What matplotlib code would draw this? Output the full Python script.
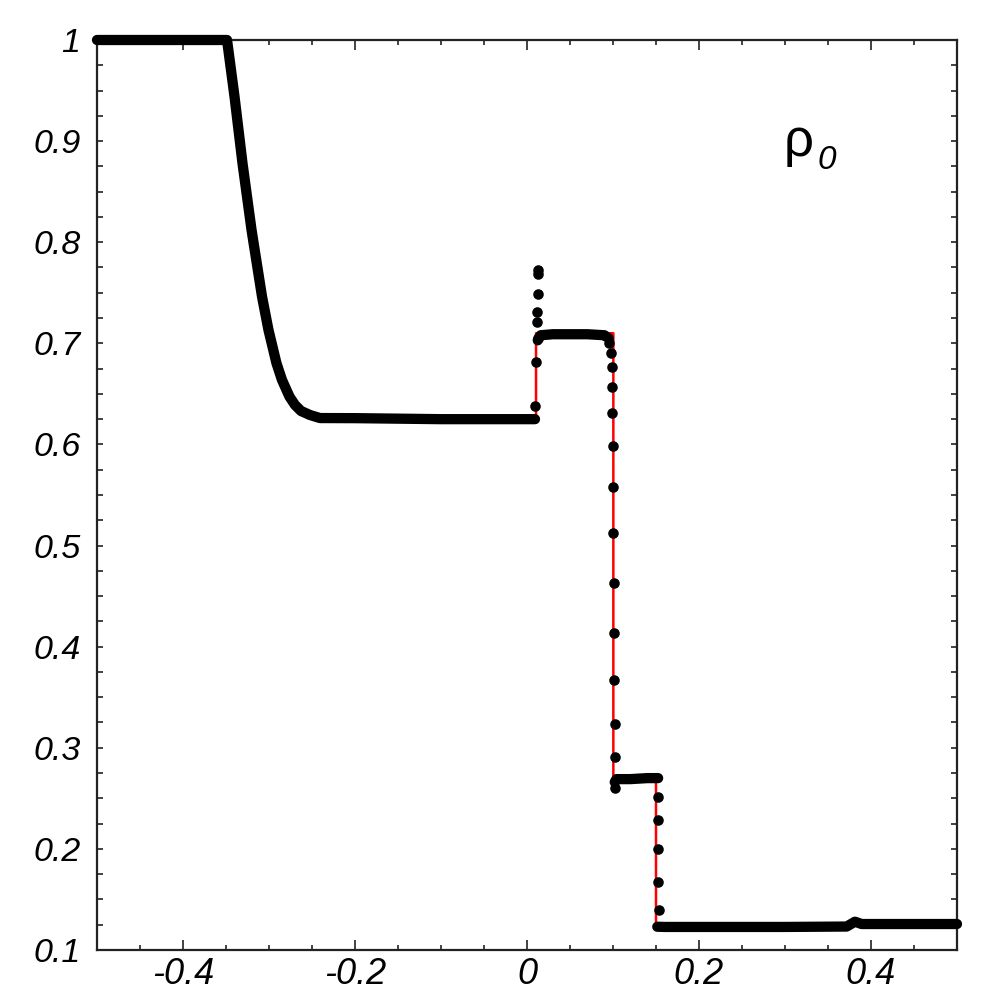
import matplotlib.pyplot as plt
from matplotlib import font_manager
from matplotlib.ticker import MultipleLocator, FixedLocator, FixedFormatter

plt.rcParams['axes.unicode_minus'] = False

# rarefaction fan
fan_x = [-0.3488, -0.3401, -0.3308, -0.3203, -0.3081, -0.3006, -0.2913, -0.2849,
         -0.2762, -0.2698, -0.2628]
fan_y = [1.0, 0.944, 0.878, 0.8121, 0.7461, 0.7132, 0.6803, 0.6638,
         0.6473, 0.6391, 0.6331]

# exact solution (red line)
exact_x = [-0.5] + fan_x + [-0.2504, 0.0105, 0.0105, 0.1004, 0.1004, 0.150, 0.150, 0.5]
exact_y = [1.0] + fan_y + [0.627, 0.626, 0.710, 0.710, 0.270, 0.270, 0.124, 0.124]

# numerical solution, dense parts (points overlap into a thick band)
band1_x = [-0.5] + fan_x + [-0.2523, -0.2407, -0.20, -0.10, 0.0, 0.0093]
band1_y = [1.0] + fan_y + [0.6291, 0.6261, 0.626, 0.625, 0.625, 0.625]
band2_x = [0.0125, 0.016, 0.03, 0.05, 0.07, 0.09, 0.095]
band2_y = [0.703, 0.708, 0.709, 0.709, 0.709, 0.708, 0.705]
band3_x = [0.1020, 0.104, 0.12, 0.14, 0.1525]
band3_y = [0.266, 0.269, 0.269, 0.270, 0.270]
band4_x = [0.1515, 0.16, 0.2, 0.3, 0.3717, 0.3814, 0.389, 0.40, 0.5]
band4_y = [0.123, 0.1228, 0.1228, 0.1228, 0.1232, 0.128, 0.1257, 0.1257, 0.1257]

# numerical solution, isolated points across the jumps
dots_x = [0.0093, 0.0105, 0.0120, 0.0122, 0.0125, 0.0125, 0.0128, 0.0130,
          0.0955, 0.0975, 0.0985, 0.0990, 0.0993, 0.0997, 0.1000, 0.1004, 0.1008,
          0.1012, 0.1016, 0.1020, 0.1020, 0.1025,
          0.1521, 0.1521, 0.1523, 0.1527, 0.1530]
dots_y = [0.638, 0.682, 0.721, 0.731, 0.749, 0.769, 0.773, 0.705,
          0.700, 0.690, 0.677, 0.657, 0.631, 0.598, 0.558, 0.512, 0.463,
          0.414, 0.367, 0.324, 0.291, 0.260,
          0.251, 0.2286, 0.1996, 0.1676, 0.1396]

x_ticks = [-0.4, -0.2, 0.0, 0.2, 0.4]
x_labels = ['-0.4', '-0.2', '0', '0.2', '0.4']
y_ticks = [0.1, 0.2, 0.3, 0.4, 0.5, 0.6, 0.7, 0.8, 0.9, 1.0]
y_labels = ['0.1', '0.2', '0.3', '0.4', '0.5', '0.6', '0.7', '0.8', '0.9', '1']

# narrow face for the x labels if it is there
names = {f.name for f in font_manager.fontManager.ttflist}
if 'Liberation Sans Narrow' in names:
    xfam, xsize = 'Liberation Sans Narrow', 30
else:
    xfam, xsize = 'Liberation Sans', 26

fig = plt.figure(figsize=(10, 10), dpi=100)
ax = fig.add_axes([0.097, 0.05, 0.86, 0.91])

ax.plot(exact_x, exact_y, color='red', lw=1.8, zorder=2)
for bx, by in [(band1_x, band1_y), (band2_x, band2_y), (band3_x, band3_y), (band4_x, band4_y)]:
    ax.plot(bx, by, color='black', lw=7.4, solid_capstyle='round',
            solid_joinstyle='round', zorder=3, clip_on=False)
ax.plot(dots_x, dots_y, 'o', color='black', ms=7.6, mew=0, zorder=4)

ax.set_xlim(-0.5, 0.5)
ax.set_ylim(0.1, 1.0)

ax.xaxis.set_major_locator(FixedLocator(x_ticks))
ax.xaxis.set_major_formatter(FixedFormatter(x_labels))
ax.xaxis.set_minor_locator(MultipleLocator(0.05))
ax.yaxis.set_major_locator(FixedLocator(y_ticks))
ax.yaxis.set_major_formatter(FixedFormatter(y_labels))
ax.yaxis.set_minor_locator(MultipleLocator(0.025))

ax.tick_params(axis='both', which='both', direction='in', top=True, right=True,
               color='#222222', width=1.2)
ax.tick_params(axis='x', which='major', length=7, pad=5)
ax.tick_params(axis='x', which='minor', length=3.5)
ax.tick_params(axis='y', which='both', length=4, pad=12)

for lab in ax.get_xticklabels():
    lab.set_fontfamily(xfam)
    lab.set_fontstyle('italic')
    lab.set_fontsize(xsize)
for lab in ax.get_yticklabels():
    lab.set_fontfamily('Liberation Sans')
    lab.set_fontstyle('italic')
    lab.set_fontsize(24.5)

for sp in ax.spines.values():
    sp.set_linewidth(1.6)
    sp.set_color('#222222')

ax.text(0.798, 0.8725, 'ρ', transform=ax.transAxes, fontsize=38,
        family='Liberation Sans', ha='left', va='baseline')
ax.text(0.838, 0.858, '0', transform=ax.transAxes, fontsize=24, style='italic',
        family=xfam, ha='left', va='baseline')

fig.savefig('out.png', dpi=100, facecolor='white')
